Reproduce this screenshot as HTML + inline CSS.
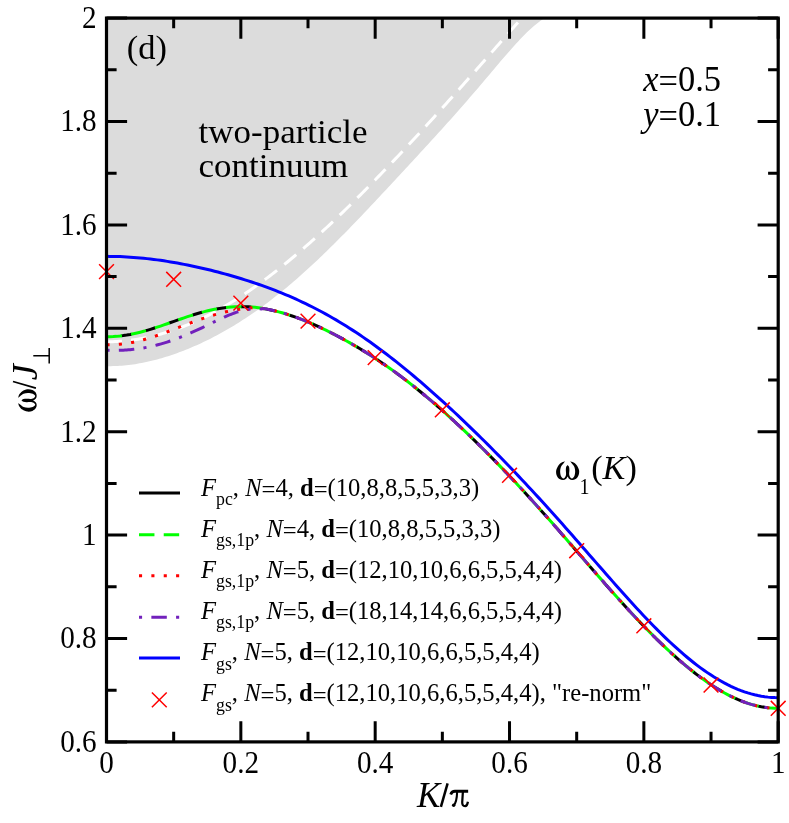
<!DOCTYPE html>
<html><head><meta charset="utf-8"><title>chart</title>
<style>
html,body{margin:0;padding:0;background:#fff;}
svg{display:block;}
text{font-family:"Liberation Serif",serif;fill:#000;}
</style></head><body>
<svg width="789" height="823" viewBox="0 0 789 823" style="will-change:transform;opacity:0.9999">
<rect width="789" height="823" fill="#fff"/>
<path d="M106.5,18.1 L106.50,366.23 L108.70,366.20 L110.90,366.15 L113.10,366.09 L115.31,366.01 L117.51,365.91 L119.71,365.79 L121.91,365.65 L124.11,365.48 L126.31,365.28 L128.52,365.05 L130.72,364.78 L132.92,364.48 L135.12,364.13 L137.32,363.76 L139.52,363.37 L141.72,362.95 L143.93,362.51 L146.13,362.05 L148.33,361.56 L150.53,361.05 L152.73,360.52 L154.93,359.96 L157.13,359.39 L159.34,358.78 L161.54,358.16 L163.74,357.51 L165.94,356.84 L168.14,356.14 L170.34,355.42 L172.55,354.68 L174.75,353.92 L176.95,353.14 L179.15,352.33 L181.35,351.51 L183.55,350.66 L185.75,349.79 L187.96,348.90 L190.16,347.99 L192.36,347.06 L194.56,346.11 L196.76,345.14 L198.96,344.15 L201.16,343.14 L203.37,342.11 L205.57,341.05 L207.77,339.98 L209.97,338.88 L212.17,337.76 L214.37,336.62 L216.58,335.46 L218.78,334.27 L220.98,333.07 L223.18,331.84 L225.38,330.59 L227.58,329.33 L229.78,328.04 L231.99,326.73 L234.19,325.40 L236.39,324.05 L238.59,322.68 L240.79,321.28 L242.99,319.87 L245.19,318.44 L247.40,316.98 L249.60,315.50 L251.80,314.01 L254.00,312.49 L256.20,310.94 L258.40,309.38 L260.61,307.80 L262.81,306.19 L265.01,304.56 L267.21,302.92 L269.41,301.25 L271.61,299.56 L273.81,297.85 L276.02,296.12 L278.22,294.37 L280.42,292.60 L282.62,290.81 L284.82,289.00 L287.02,287.17 L289.23,285.33 L291.43,283.46 L293.63,281.58 L295.83,279.67 L298.03,277.75 L300.23,275.80 L302.43,273.84 L304.64,271.86 L306.84,269.87 L309.04,267.85 L311.24,265.82 L313.44,263.77 L315.64,261.71 L317.84,259.63 L320.05,257.54 L322.25,255.43 L324.45,253.31 L326.65,251.17 L328.85,249.03 L331.05,246.87 L333.26,244.69 L335.46,242.51 L337.66,240.31 L339.86,238.09 L342.06,235.87 L344.26,233.63 L346.46,231.39 L348.67,229.13 L350.87,226.86 L353.07,224.58 L355.27,222.30 L357.47,220.00 L359.67,217.70 L361.87,215.39 L364.08,213.08 L366.28,210.75 L368.48,208.43 L370.68,206.09 L372.88,203.75 L375.08,201.41 L377.29,199.06 L379.49,196.71 L381.69,194.36 L383.89,192.00 L386.09,189.65 L388.29,187.28 L390.49,184.92 L392.70,182.55 L394.90,180.19 L397.10,177.82 L399.30,175.44 L401.50,173.07 L403.70,170.70 L405.91,168.32 L408.11,165.94 L410.31,163.56 L412.51,161.18 L414.71,158.79 L416.91,156.41 L419.11,154.02 L421.32,151.62 L423.52,149.23 L425.72,146.83 L427.92,144.43 L430.12,142.02 L432.32,139.61 L434.52,137.20 L436.73,134.78 L438.93,132.35 L441.13,129.92 L443.33,127.48 L445.53,125.04 L447.73,122.59 L449.94,120.13 L452.14,117.66 L454.34,115.19 L456.54,112.70 L458.74,110.21 L460.94,107.71 L463.14,105.20 L465.35,102.69 L467.55,100.16 L469.75,97.62 L471.95,95.08 L474.15,92.52 L476.35,89.95 L478.55,87.38 L480.76,84.79 L482.96,82.20 L485.16,79.60 L487.36,77.00 L489.56,74.39 L491.76,71.78 L493.97,69.17 L496.17,66.57 L498.37,63.97 L500.57,61.37 L502.77,58.79 L504.97,56.23 L507.17,53.68 L509.38,51.16 L511.58,48.66 L513.78,46.19 L515.98,43.76 L518.18,41.38 L520.38,39.03 L522.58,36.74 L524.79,34.51 L526.99,32.34 L529.19,30.24 L531.39,28.22 L533.59,26.28 L535.79,24.43 L538.00,22.67 L540.20,21.03 L542.40,19.49 L544.60,18.08 L544.60,18.1 Z" fill="#dcdcdc"/>
<g fill="none">
<path d="M106.50,341.74 L108.60,341.73 L110.69,341.69 L112.79,341.63 L114.89,341.55 L116.98,341.45 L119.08,341.32 L121.18,341.17 L123.27,341.00 L125.37,340.80 L127.47,340.59 L129.56,340.35 L131.66,340.08 L133.76,339.80 L135.85,339.49 L137.95,339.16 L140.05,338.80 L142.14,338.42 L144.24,338.03 L146.34,337.60 L148.43,337.16 L150.53,336.69 L152.63,336.20 L154.72,335.69 L156.82,335.16 L158.92,334.60 L161.02,334.03 L163.11,333.43 L165.21,332.81 L167.31,332.16 L169.40,331.50 L171.50,330.81 L173.60,330.10 L175.69,329.37 L177.79,328.62 L179.89,327.85 L181.98,327.05 L184.08,326.23 L186.18,325.40 L188.27,324.54 L190.37,323.66 L192.47,322.76 L194.56,321.84 L196.66,320.89 L198.76,319.93 L200.85,318.95 L202.95,317.94 L205.05,316.92 L207.14,315.88 L209.24,314.81 L211.34,313.73 L213.43,312.62 L215.53,311.50 L217.63,310.35 L219.72,309.19 L221.82,308.01 L223.92,306.80 L226.01,305.58 L228.11,304.34 L230.21,303.08 L232.30,301.80 L234.40,300.51 L236.50,299.19 L238.59,297.86 L240.69,296.51 L242.79,295.14 L244.88,293.75 L246.98,292.34 L249.08,290.92 L251.17,289.48 L253.27,288.02 L255.37,286.55 L257.46,285.05 L259.56,283.55 L261.66,282.02 L263.76,280.48 L265.85,278.92 L267.95,277.35 L270.05,275.76 L272.14,274.15 L274.24,272.53 L276.34,270.89 L278.43,269.24 L280.53,267.57 L282.63,265.89 L284.72,264.19 L286.82,262.48 L288.92,260.76 L291.01,259.02 L293.11,257.26 L295.21,255.50 L297.30,253.72 L299.40,251.92 L301.50,250.12 L303.59,248.30 L305.69,246.47 L307.79,244.62 L309.88,242.77 L311.98,240.90 L314.08,239.02 L316.17,237.13 L318.27,235.22 L320.37,233.31 L322.46,231.39 L324.56,229.45 L326.66,227.50 L328.75,225.55 L330.85,223.58 L332.95,221.60 L335.04,219.62 L337.14,217.62 L339.24,215.61 L341.33,213.60 L343.43,211.57 L345.53,209.54 L347.62,207.50 L349.72,205.45 L351.82,203.39 L353.91,201.32 L356.01,199.24 L358.11,197.16 L360.20,195.07 L362.30,192.97 L364.40,190.86 L366.49,188.74 L368.59,186.62 L370.69,184.49 L372.79,182.35 L374.88,180.21 L376.98,178.05 L379.08,175.90 L381.17,173.73 L383.27,171.56 L385.37,169.38 L387.46,167.19 L389.56,165.00 L391.66,162.80 L393.75,160.60 L395.85,158.39 L397.95,156.17 L400.04,153.95 L402.14,151.72 L404.24,149.49 L406.33,147.25 L408.43,145.00 L410.53,142.75 L412.62,140.50 L414.72,138.23 L416.82,135.97 L418.91,133.69 L421.01,131.41 L423.11,129.13 L425.20,126.84 L427.30,124.55 L429.40,122.25 L431.49,119.95 L433.59,117.64 L435.69,115.33 L437.78,113.01 L439.88,110.69 L441.98,108.37 L444.07,106.04 L446.17,103.71 L448.27,101.37 L450.36,99.03 L452.46,96.68 L454.56,94.34 L456.65,91.99 L458.75,89.63 L460.85,87.27 L462.94,84.91 L465.04,82.55 L467.14,80.18 L469.23,77.81 L471.33,75.44 L473.43,73.07 L475.53,70.69 L477.62,68.32 L479.72,65.94 L481.82,63.55 L483.91,61.17 L486.01,58.79 L488.11,56.40 L490.20,54.02 L492.30,51.63 L494.40,49.24 L496.49,46.85 L498.59,44.46 L500.69,42.07 L502.78,39.68 L504.88,37.29 L506.98,34.90 L509.07,32.51 L511.17,30.13 L513.27,27.74 L515.36,25.35 L517.46,22.97 L519.56,20.59 L521.65,18.20 L523.75,15.82" stroke="#fff" stroke-width="3" stroke-dasharray="15.45 9.27"/>
<path d="M106.50,336.80 L109.88,336.75 L113.25,336.61 L116.63,336.37 L120.00,336.03 L123.38,335.60 L126.75,335.09 L130.13,334.49 L133.50,333.81 L136.88,333.05 L140.25,332.22 L143.63,331.32 L147.00,330.36 L150.38,329.35 L153.76,328.29 L157.13,327.19 L160.51,326.06 L163.88,324.90 L167.26,323.72 L170.63,322.54 L174.01,321.34 L177.38,320.16 L180.76,318.98 L184.13,317.82 L187.51,316.69 L190.88,315.59 L194.26,314.54 L197.64,313.52 L201.01,312.56 L204.39,311.66 L207.76,310.81 L211.14,310.04 L214.51,309.33 L217.89,308.71 L221.26,308.15 L224.64,307.69 L228.01,307.30 L231.39,307.00 L234.76,306.79 L238.14,306.66 L241.52,306.63 L244.89,306.68 L248.27,306.82 L251.64,307.05 L255.02,307.36 L258.39,307.76 L261.77,308.24 L265.14,308.81 L268.52,309.45 L271.89,310.17 L275.27,310.97 L278.64,311.84 L282.02,312.77 L285.39,313.78 L288.77,314.85 L292.15,315.98 L295.52,317.17 L298.90,318.41 L302.27,319.72 L305.65,321.07 L309.02,322.47 L312.40,323.92 L315.77,325.42 L319.15,326.96 L322.52,328.54 L325.90,330.16 L329.27,331.83 L332.65,333.54 L336.03,335.28 L339.40,337.06 L342.78,338.89 L346.15,340.75 L349.53,342.65 L352.90,344.58 L356.28,346.56 L359.65,348.57 L363.03,350.62 L366.40,352.71 L369.78,354.85 L373.15,357.02 L376.53,359.23 L379.91,361.48 L383.28,363.77 L386.66,366.11 L390.03,368.48 L393.41,370.90 L396.78,373.36 L400.16,375.86 L403.53,378.40 L406.91,380.99 L410.28,383.61 L413.66,386.28 L417.03,388.98 L420.41,391.73 L423.79,394.51 L427.16,397.34 L430.54,400.20 L433.91,403.09 L437.29,406.02 L440.66,408.99 L444.04,411.99 L447.41,415.03 L450.79,418.10 L454.16,421.20 L457.54,424.33 L460.91,427.49 L464.29,430.68 L467.67,433.91 L471.04,437.16 L474.42,440.43 L477.79,443.74 L481.17,447.07 L484.54,450.43 L487.92,453.82 L491.29,457.23 L494.67,460.67 L498.04,464.13 L501.42,467.62 L504.79,471.14 L508.17,474.68 L511.55,478.25 L514.92,481.84 L518.30,485.45 L521.67,489.09 L525.05,492.76 L528.42,496.45 L531.80,500.16 L535.17,503.89 L538.55,507.64 L541.92,511.42 L545.30,515.21 L548.67,519.02 L552.05,522.85 L555.43,526.69 L558.80,530.55 L562.18,534.42 L565.55,538.30 L568.93,542.19 L572.30,546.09 L575.68,549.99 L579.05,553.89 L582.43,557.80 L585.80,561.70 L589.18,565.60 L592.55,569.49 L595.93,573.37 L599.31,577.24 L602.68,581.10 L606.06,584.94 L609.43,588.77 L612.81,592.57 L616.18,596.35 L619.56,600.11 L622.93,603.83 L626.31,607.53 L629.68,611.20 L633.06,614.83 L636.43,618.43 L639.81,621.99 L643.18,625.51 L646.56,628.98 L649.94,632.42 L653.31,635.81 L656.69,639.15 L660.06,642.44 L663.44,645.68 L666.81,648.87 L670.19,652.00 L673.56,655.08 L676.94,658.09 L680.31,661.05 L683.69,663.94 L687.06,666.76 L690.44,669.52 L693.82,672.21 L697.19,674.82 L700.57,677.35 L703.94,679.81 L707.32,682.19 L710.69,684.48 L714.07,686.68 L717.44,688.79 L720.82,690.81 L724.19,692.74 L727.57,694.56 L730.94,696.29 L734.32,697.90 L737.70,699.42 L741.07,700.82 L744.45,702.11 L747.82,703.28 L751.20,704.34 L754.57,705.27 L757.95,706.09 L761.32,706.78 L764.70,707.35 L768.07,707.80 L771.45,708.12 L774.82,708.31 L778.20,708.37" stroke="#000" stroke-width="3" stroke-dasharray="10.27 14.45" stroke-dashoffset="9.77"/>
<path d="M106.50,336.80 L109.88,336.75 L113.25,336.61 L116.63,336.37 L120.00,336.03 L123.38,335.60 L126.75,335.09 L130.13,334.49 L133.50,333.81 L136.88,333.05 L140.25,332.22 L143.63,331.32 L147.00,330.36 L150.38,329.35 L153.76,328.29 L157.13,327.19 L160.51,326.06 L163.88,324.90 L167.26,323.72 L170.63,322.54 L174.01,321.34 L177.38,320.16 L180.76,318.98 L184.13,317.82 L187.51,316.69 L190.88,315.59 L194.26,314.54 L197.64,313.52 L201.01,312.56 L204.39,311.66 L207.76,310.81 L211.14,310.04 L214.51,309.33 L217.89,308.71 L221.26,308.15 L224.64,307.69 L228.01,307.30 L231.39,307.00 L234.76,306.79 L238.14,306.66 L241.52,306.63 L244.89,306.68 L248.27,306.82 L251.64,307.05 L255.02,307.36 L258.39,307.76 L261.77,308.24 L265.14,308.81 L268.52,309.45 L271.89,310.17 L275.27,310.97 L278.64,311.84 L282.02,312.77 L285.39,313.78 L288.77,314.85 L292.15,315.98 L295.52,317.17 L298.90,318.41 L302.27,319.72 L305.65,321.07 L309.02,322.47 L312.40,323.92 L315.77,325.42 L319.15,326.96 L322.52,328.54 L325.90,330.16 L329.27,331.83 L332.65,333.54 L336.03,335.28 L339.40,337.06 L342.78,338.89 L346.15,340.75 L349.53,342.65 L352.90,344.58 L356.28,346.56 L359.65,348.57 L363.03,350.62 L366.40,352.71 L369.78,354.85 L373.15,357.02 L376.53,359.23 L379.91,361.48 L383.28,363.77 L386.66,366.11 L390.03,368.48 L393.41,370.90 L396.78,373.36 L400.16,375.86 L403.53,378.40 L406.91,380.99 L410.28,383.61 L413.66,386.28 L417.03,388.98 L420.41,391.73 L423.79,394.51 L427.16,397.34 L430.54,400.20 L433.91,403.09 L437.29,406.02 L440.66,408.99 L444.04,411.99 L447.41,415.03 L450.79,418.10 L454.16,421.20 L457.54,424.33 L460.91,427.49 L464.29,430.68 L467.67,433.91 L471.04,437.16 L474.42,440.43 L477.79,443.74 L481.17,447.07 L484.54,450.43 L487.92,453.82 L491.29,457.23 L494.67,460.67 L498.04,464.13 L501.42,467.62 L504.79,471.14 L508.17,474.68 L511.55,478.25 L514.92,481.84 L518.30,485.45 L521.67,489.09 L525.05,492.76 L528.42,496.45 L531.80,500.16 L535.17,503.89 L538.55,507.64 L541.92,511.42 L545.30,515.21 L548.67,519.02 L552.05,522.85 L555.43,526.69 L558.80,530.55 L562.18,534.42 L565.55,538.30 L568.93,542.19 L572.30,546.09 L575.68,549.99 L579.05,553.89 L582.43,557.80 L585.80,561.70 L589.18,565.60 L592.55,569.49 L595.93,573.37 L599.31,577.24 L602.68,581.10 L606.06,584.94 L609.43,588.77 L612.81,592.57 L616.18,596.35 L619.56,600.11 L622.93,603.83 L626.31,607.53 L629.68,611.20 L633.06,614.83 L636.43,618.43 L639.81,621.99 L643.18,625.51 L646.56,628.98 L649.94,632.42 L653.31,635.81 L656.69,639.15 L660.06,642.44 L663.44,645.68 L666.81,648.87 L670.19,652.00 L673.56,655.08 L676.94,658.09 L680.31,661.05 L683.69,663.94 L687.06,666.76 L690.44,669.52 L693.82,672.21 L697.19,674.82 L700.57,677.35 L703.94,679.81 L707.32,682.19 L710.69,684.48 L714.07,686.68 L717.44,688.79 L720.82,690.81 L724.19,692.74 L727.57,694.56 L730.94,696.29 L734.32,697.90 L737.70,699.42 L741.07,700.82 L744.45,702.11 L747.82,703.28 L751.20,704.34 L754.57,705.27 L757.95,706.09 L761.32,706.78 L764.70,707.35 L768.07,707.80 L771.45,708.12 L774.82,708.31 L778.20,708.37" stroke="#00ff00" stroke-width="3" stroke-dasharray="15.45 9.27"/>
<path d="M106.50,344.71 L108.18,344.74 L109.87,344.74 L111.55,344.71 L113.23,344.66 L114.92,344.59 L116.60,344.49 L118.28,344.36 L119.97,344.21 L121.65,344.03 L123.33,343.84 L125.02,343.61 L126.70,343.37 L128.38,343.10 L130.07,342.81 L131.75,342.49 L133.44,342.16 L135.12,341.80 L136.80,341.42 L138.49,341.02 L140.17,340.61 L141.85,340.17 L143.54,339.72 L145.22,339.25 L146.90,338.76 L148.59,338.25 L150.27,337.73 L151.95,337.20 L153.64,336.65 L155.32,336.09 L157.00,335.52 L158.69,334.93 L160.37,334.34 L162.05,333.74 L163.74,333.12 L165.42,332.50 L167.10,331.88 L168.79,331.24 L170.47,330.60 L172.15,329.96 L173.84,329.31 L175.52,328.67 L177.21,328.02 L178.89,327.36 L180.57,326.71 L182.26,326.06 L183.94,325.42 L185.62,324.77 L187.31,324.13 L188.99,323.49 L190.67,322.85 L192.36,322.23 L194.04,321.61 L195.72,320.99 L197.41,320.38 L199.09,319.79 L200.77,319.20 L202.46,318.62 L204.14,318.05 L205.82,317.49 L207.51,316.94 L209.19,316.41 L210.87,315.89 L212.56,315.38 L214.24,314.88 L215.92,314.40 L217.61,313.93 L219.29,313.48 L220.98,313.04 L222.66,312.62 L224.34,312.21 L226.03,311.81 L227.71,311.44 L229.39,311.08 L231.08,310.73 L232.76,310.40 L234.44,310.09 L236.13,309.79 L237.81,309.51 L239.49,309.25 L241.18,309.00 L242.86,308.77 L244.54,308.56 L246.23,308.36 L247.91,308.18 L249.59,308.01 L251.28,307.86 L252.96,307.72 L254.64,307.60 L256.33,307.51 L258.01,307.71 L259.69,307.94 L261.38,308.18 L263.06,308.45 L264.75,308.74 L266.43,309.04 L268.11,309.37 L269.80,309.72 L271.48,310.08 L273.16,310.46 L274.85,310.86 L276.53,311.28 L278.21,311.72 L279.90,312.18 L281.58,312.65 L283.26,313.14 L284.95,313.64 L286.63,314.16 L288.31,314.70 L290.00,315.25 L291.68,315.82 L293.36,316.40 L295.05,317.00 L296.73,317.61 L298.41,318.23 L300.10,318.87 L301.78,319.52 L303.46,320.19 L305.15,320.86 L306.83,321.55 L308.52,322.26 L310.20,322.97 L311.88,323.69 L313.57,324.43 L315.25,325.18 L316.93,325.94 L318.62,326.71 L320.30,327.49 L321.98,328.28 L323.67,329.08 L325.35,329.90 L327.03,330.72 L328.72,331.55 L330.40,332.39 L332.08,333.25 L333.77,334.11 L335.45,334.98 L337.13,335.86 L338.82,336.75 L340.50,337.65 L342.18,338.56 L343.87,339.48 L345.55,340.41 L347.23,341.35 L348.92,342.30 L350.60,343.26 L352.28,344.22 L353.97,345.20 L355.65,346.19 L357.34,347.18 L359.02,348.19 L360.70,349.20 L362.39,350.23 L364.07,351.26 L365.75,352.31 L367.44,353.36 L369.12,354.43 L370.80,355.50 L372.49,356.58 L374.17,357.68 L375.85,358.78 L377.54,359.90 L379.22,361.02 L380.90,362.15 L382.59,363.30 L384.27,364.45 L385.95,365.62 L387.64,366.79 L389.32,367.98 L391.00,369.18 L392.69,370.38 L394.37,371.60 L396.05,372.83 L397.74,374.07 L399.42,375.31 L401.11,376.57 L402.79,377.84 L404.47,379.12 L406.16,380.41 L407.84,381.71 L409.52,383.02 L411.21,384.34 L412.89,385.67 L414.57,387.01 L416.26,388.36 L417.94,389.72 L419.62,391.09 L421.31,392.46 L422.99,393.85 L424.67,395.25 L426.36,396.66 L428.04,398.08 L429.72,399.50 L431.41,400.94 L433.09,402.38 L434.77,403.84 L436.46,405.30 L438.14,406.77 L439.82,408.25 L441.51,409.74 L443.19,411.24 L444.88,412.74 L446.56,414.26 L448.24,415.78 L449.93,417.31 L451.61,418.85 L453.29,420.40 L454.98,421.95 L456.66,423.51 L458.34,425.08 L460.03,426.66 L461.71,428.24 L463.39,429.83 L465.08,431.43 L466.76,433.04 L468.44,434.65 L470.13,436.27 L471.81,437.90 L473.49,439.53 L475.18,441.18 L476.86,442.82 L478.54,444.48 L480.23,446.14 L481.91,447.81 L483.59,449.48 L485.28,451.17 L486.96,452.85 L488.65,454.55 L490.33,456.25 L492.01,457.96 L493.70,459.67 L495.38,461.39 L497.06,463.12 L498.75,464.86 L500.43,466.60 L502.11,468.34 L503.80,470.10 L505.48,471.85 L507.16,473.62 L508.85,475.39 L510.53,477.17 L512.21,478.95 L513.90,480.75 L515.58,482.54 L517.26,484.34 L518.95,486.15 L520.63,487.97 L522.31,489.79 L524.00,491.62 L525.68,493.45 L527.36,495.29 L529.05,497.13 L530.73,498.98 L532.42,500.84 L534.10,502.70 L535.78,504.56 L537.47,506.43 L539.15,508.31 L540.83,510.19 L542.52,512.08 L544.20,513.97 L545.88,515.87 L547.57,517.77 L549.25,519.67 L550.93,521.58 L552.62,523.49 L554.30,525.41 L555.98,527.33 L557.67,529.25 L559.35,531.18 L561.03,533.11 L562.72,535.04 L564.40,536.98 L566.08,538.92 L567.77,540.86 L569.45,542.80 L571.13,544.74 L572.82,546.68 L574.50,548.63 L576.18,550.58 L577.87,552.52 L579.55,554.47 L581.24,556.42 L582.92,558.36 L584.60,560.31 L586.29,562.26 L587.97,564.20 L589.65,566.14 L591.34,568.09 L593.02,570.03 L594.70,571.96 L596.39,573.90 L598.07,575.83 L599.75,577.76 L601.44,579.68 L603.12,581.60 L604.80,583.52 L606.49,585.43 L608.17,587.34 L609.85,589.25 L611.54,591.14 L613.22,593.04 L614.90,594.92 L616.59,596.80 L618.27,598.68 L619.95,600.55 L621.64,602.41 L623.32,604.26 L625.01,606.11 L626.69,607.95 L628.37,609.78 L630.06,611.60 L631.74,613.41 L633.42,615.22 L635.11,617.02 L636.79,618.80 L638.47,620.58 L640.16,622.35 L641.84,624.11 L643.52,625.86 L645.21,627.59 L646.89,629.32 L648.57,631.04 L650.26,632.74 L651.94,634.44 L653.62,636.12 L655.31,637.79 L656.99,639.45 L658.67,641.09 L660.36,642.73 L662.04,644.35 L663.72,645.96 L665.41,647.55 L667.09,649.13 L668.78,650.70 L670.46,652.25 L672.14,653.79 L673.83,655.31 L675.51,656.82 L677.19,658.32 L678.88,659.80 L680.56,661.26 L682.24,662.71 L683.93,664.14 L685.61,665.56 L687.29,666.95 L688.98,668.33 L690.66,669.70 L692.34,671.04 L694.03,672.37 L695.71,673.68 L697.39,674.97 L699.08,676.25 L700.76,677.50 L702.44,678.73 L704.13,679.94 L705.81,681.14 L707.49,682.31 L709.18,683.46 L710.86,684.59 L712.55,685.70 L714.23,686.78 L715.91,687.85 L717.60,688.89 L719.28,689.90 L720.96,690.90 L722.65,691.87 L724.33,692.81 L726.01,693.73 L727.70,694.63 L729.38,695.50 L731.06,696.34 L732.75,697.16 L734.43,697.96 L736.11,698.72 L737.80,699.46 L739.48,700.17 L741.16,700.85 L742.85,701.51 L744.53,702.14 L746.21,702.74 L747.90,703.30 L749.58,703.85 L751.26,704.36 L752.95,704.84 L754.63,705.29 L756.32,705.71 L758.00,706.10 L759.68,706.46 L761.37,706.79 L763.05,707.09 L764.73,707.36 L766.42,707.59 L768.10,707.80 L769.78,707.97 L771.47,708.12 L773.15,708.23 L774.83,708.31 L776.52,708.35 L778.20,708.37" stroke="#ff0000" stroke-width="3" stroke-dasharray="3.09 9.27"/>
<path d="M106.50,350.25 L108.18,350.30 L109.87,350.33 L111.55,350.36 L113.23,350.37 L114.92,350.37 L116.60,350.35 L118.28,350.32 L119.97,350.28 L121.65,350.22 L123.33,350.15 L125.02,350.06 L126.70,349.95 L128.38,349.83 L130.07,349.69 L131.75,349.53 L133.44,349.35 L135.12,349.16 L136.80,348.95 L138.49,348.72 L140.17,348.48 L141.85,348.21 L143.54,347.93 L145.22,347.63 L146.90,347.31 L148.59,346.97 L150.27,346.62 L151.95,346.24 L153.64,345.85 L155.32,345.44 L157.00,345.01 L158.69,344.57 L160.37,344.11 L162.05,343.62 L163.74,343.13 L165.42,342.61 L167.10,342.08 L168.79,341.53 L170.47,340.96 L172.15,340.38 L173.84,339.78 L175.52,339.16 L177.21,338.53 L178.89,337.89 L180.57,337.22 L182.26,336.54 L183.94,335.85 L185.62,335.14 L187.31,334.42 L188.99,333.69 L190.67,332.95 L192.36,332.20 L194.04,331.44 L195.72,330.68 L197.41,329.90 L199.09,329.12 L200.77,328.33 L202.46,327.54 L204.14,326.73 L205.82,325.92 L207.51,325.11 L209.19,324.29 L210.87,323.47 L212.56,322.65 L214.24,321.83 L215.92,321.02 L217.61,320.21 L219.29,319.42 L220.98,318.63 L222.66,317.86 L224.34,317.10 L226.03,316.36 L227.71,315.64 L229.39,314.95 L231.08,314.28 L232.76,313.64 L234.44,313.02 L236.13,312.44 L237.81,311.89 L239.49,311.38 L241.18,310.91 L242.86,310.47 L244.54,310.08 L246.23,309.73 L247.91,309.43 L249.59,309.17 L251.28,308.97 L252.96,308.81 L254.64,308.71 L256.33,308.67 L258.01,308.68 L259.69,308.75 L261.38,308.88 L263.06,308.45 L264.75,308.74 L266.43,309.04 L268.11,309.37 L269.80,309.72 L271.48,310.08 L273.16,310.46 L274.85,310.86 L276.53,311.28 L278.21,311.72 L279.90,312.18 L281.58,312.65 L283.26,313.14 L284.95,313.64 L286.63,314.16 L288.31,314.70 L290.00,315.25 L291.68,315.82 L293.36,316.40 L295.05,317.00 L296.73,317.61 L298.41,318.23 L300.10,318.87 L301.78,319.52 L303.46,320.19 L305.15,320.86 L306.83,321.55 L308.52,322.26 L310.20,322.97 L311.88,323.69 L313.57,324.43 L315.25,325.18 L316.93,325.94 L318.62,326.71 L320.30,327.49 L321.98,328.28 L323.67,329.08 L325.35,329.90 L327.03,330.72 L328.72,331.55 L330.40,332.39 L332.08,333.25 L333.77,334.11 L335.45,334.98 L337.13,335.86 L338.82,336.75 L340.50,337.65 L342.18,338.56 L343.87,339.48 L345.55,340.41 L347.23,341.35 L348.92,342.30 L350.60,343.26 L352.28,344.22 L353.97,345.20 L355.65,346.19 L357.34,347.18 L359.02,348.19 L360.70,349.20 L362.39,350.23 L364.07,351.26 L365.75,352.31 L367.44,353.36 L369.12,354.43 L370.80,355.50 L372.49,356.58 L374.17,357.68 L375.85,358.78 L377.54,359.90 L379.22,361.02 L380.90,362.15 L382.59,363.30 L384.27,364.45 L385.95,365.62 L387.64,366.79 L389.32,367.98 L391.00,369.18 L392.69,370.38 L394.37,371.60 L396.05,372.83 L397.74,374.07 L399.42,375.31 L401.11,376.57 L402.79,377.84 L404.47,379.12 L406.16,380.41 L407.84,381.71 L409.52,383.02 L411.21,384.34 L412.89,385.67 L414.57,387.01 L416.26,388.36 L417.94,389.72 L419.62,391.09 L421.31,392.46 L422.99,393.85 L424.67,395.25 L426.36,396.66 L428.04,398.08 L429.72,399.50 L431.41,400.94 L433.09,402.38 L434.77,403.84 L436.46,405.30 L438.14,406.77 L439.82,408.25 L441.51,409.74 L443.19,411.24 L444.88,412.74 L446.56,414.26 L448.24,415.78 L449.93,417.31 L451.61,418.85 L453.29,420.40 L454.98,421.95 L456.66,423.51 L458.34,425.08 L460.03,426.66 L461.71,428.24 L463.39,429.83 L465.08,431.43 L466.76,433.04 L468.44,434.65 L470.13,436.27 L471.81,437.90 L473.49,439.53 L475.18,441.18 L476.86,442.82 L478.54,444.48 L480.23,446.14 L481.91,447.81 L483.59,449.48 L485.28,451.17 L486.96,452.85 L488.65,454.55 L490.33,456.25 L492.01,457.96 L493.70,459.67 L495.38,461.39 L497.06,463.12 L498.75,464.86 L500.43,466.60 L502.11,468.34 L503.80,470.10 L505.48,471.85 L507.16,473.62 L508.85,475.39 L510.53,477.17 L512.21,478.95 L513.90,480.75 L515.58,482.54 L517.26,484.34 L518.95,486.15 L520.63,487.97 L522.31,489.79 L524.00,491.62 L525.68,493.45 L527.36,495.29 L529.05,497.13 L530.73,498.98 L532.42,500.84 L534.10,502.70 L535.78,504.56 L537.47,506.43 L539.15,508.31 L540.83,510.19 L542.52,512.08 L544.20,513.97 L545.88,515.87 L547.57,517.77 L549.25,519.67 L550.93,521.58 L552.62,523.49 L554.30,525.41 L555.98,527.33 L557.67,529.25 L559.35,531.18 L561.03,533.11 L562.72,535.04 L564.40,536.98 L566.08,538.92 L567.77,540.86 L569.45,542.80 L571.13,544.74 L572.82,546.68 L574.50,548.63 L576.18,550.58 L577.87,552.52 L579.55,554.47 L581.24,556.42 L582.92,558.36 L584.60,560.31 L586.29,562.26 L587.97,564.20 L589.65,566.14 L591.34,568.09 L593.02,570.03 L594.70,571.96 L596.39,573.90 L598.07,575.83 L599.75,577.76 L601.44,579.68 L603.12,581.60 L604.80,583.52 L606.49,585.43 L608.17,587.34 L609.85,589.25 L611.54,591.14 L613.22,593.04 L614.90,594.92 L616.59,596.80 L618.27,598.68 L619.95,600.55 L621.64,602.41 L623.32,604.26 L625.01,606.11 L626.69,607.95 L628.37,609.78 L630.06,611.60 L631.74,613.41 L633.42,615.22 L635.11,617.02 L636.79,618.80 L638.47,620.58 L640.16,622.35 L641.84,624.11 L643.52,625.86 L645.21,627.59 L646.89,629.32 L648.57,631.04 L650.26,632.74 L651.94,634.44 L653.62,636.12 L655.31,637.79 L656.99,639.45 L658.67,641.09 L660.36,642.73 L662.04,644.35 L663.72,645.96 L665.41,647.55 L667.09,649.13 L668.78,650.70 L670.46,652.25 L672.14,653.79 L673.83,655.31 L675.51,656.82 L677.19,658.32 L678.88,659.80 L680.56,661.26 L682.24,662.71 L683.93,664.14 L685.61,665.56 L687.29,666.95 L688.98,668.33 L690.66,669.70 L692.34,671.04 L694.03,672.37 L695.71,673.68 L697.39,674.97 L699.08,676.25 L700.76,677.50 L702.44,678.73 L704.13,679.94 L705.81,681.14 L707.49,682.31 L709.18,683.46 L710.86,684.59 L712.55,685.70 L714.23,686.78 L715.91,687.85 L717.60,688.89 L719.28,689.90 L720.96,690.90 L722.65,691.87 L724.33,692.81 L726.01,693.73 L727.70,694.63 L729.38,695.50 L731.06,696.34 L732.75,697.16 L734.43,697.96 L736.11,698.72 L737.80,699.46 L739.48,700.17 L741.16,700.85 L742.85,701.51 L744.53,702.14 L746.21,702.74 L747.90,703.30 L749.58,703.85 L751.26,704.36 L752.95,704.84 L754.63,705.29 L756.32,705.71 L758.00,706.10 L759.68,706.46 L761.37,706.79 L763.05,707.09 L764.73,707.36 L766.42,707.59 L768.10,707.80 L769.78,707.97 L771.47,708.12 L773.15,708.23 L774.83,708.31 L776.52,708.35 L778.20,708.37" stroke="#7221bc" stroke-width="3" stroke-dasharray="3.09 9.27 15.45 9.27"/>
<path d="M106.50,256.37 L109.88,256.38 L113.25,256.43 L116.63,256.51 L120.00,256.62 L123.38,256.77 L126.75,256.94 L130.13,257.15 L133.50,257.38 L136.88,257.65 L140.25,257.95 L143.63,258.28 L147.00,258.63 L150.38,259.02 L153.76,259.43 L157.13,259.88 L160.51,260.34 L163.88,260.84 L167.26,261.36 L170.63,261.91 L174.01,262.48 L177.38,263.08 L180.76,263.70 L184.13,264.35 L187.51,265.02 L190.88,265.71 L194.26,266.43 L197.64,267.16 L201.01,267.92 L204.39,268.71 L207.76,269.51 L211.14,270.33 L214.51,271.18 L217.89,272.05 L221.26,272.94 L224.64,273.85 L228.01,274.79 L231.39,275.75 L234.76,276.73 L238.14,277.73 L241.52,278.76 L244.89,279.81 L248.27,280.89 L251.64,281.99 L255.02,283.12 L258.39,284.27 L261.77,285.45 L265.14,286.66 L268.52,287.90 L271.89,289.17 L275.27,290.47 L278.64,291.80 L282.02,293.16 L285.39,294.56 L288.77,295.99 L292.15,297.45 L295.52,298.95 L298.90,300.49 L302.27,302.06 L305.65,303.67 L309.02,305.31 L312.40,307.00 L315.77,308.72 L319.15,310.49 L322.52,312.29 L325.90,314.14 L329.27,316.02 L332.65,317.95 L336.03,319.92 L339.40,321.92 L342.78,323.97 L346.15,326.07 L349.53,328.20 L352.90,330.37 L356.28,332.58 L359.65,334.84 L363.03,337.13 L366.40,339.47 L369.78,341.84 L373.15,344.25 L376.53,346.70 L379.91,349.19 L383.28,351.72 L386.66,354.28 L390.03,356.87 L393.41,359.51 L396.78,362.17 L400.16,364.87 L403.53,367.60 L406.91,370.37 L410.28,373.16 L413.66,375.99 L417.03,378.84 L420.41,381.73 L423.79,384.64 L427.16,387.58 L430.54,390.55 L433.91,393.54 L437.29,396.56 L440.66,399.60 L444.04,402.67 L447.41,405.76 L450.79,408.88 L454.16,412.02 L457.54,415.18 L460.91,418.37 L464.29,421.58 L467.67,424.81 L471.04,428.06 L474.42,431.33 L477.79,434.63 L481.17,437.95 L484.54,441.29 L487.92,444.65 L491.29,448.03 L494.67,451.44 L498.04,454.86 L501.42,458.31 L504.79,461.78 L508.17,465.27 L511.55,468.78 L514.92,472.31 L518.30,475.87 L521.67,479.44 L525.05,483.04 L528.42,486.65 L531.80,490.29 L535.17,493.95 L538.55,497.63 L541.92,501.32 L545.30,505.04 L548.67,508.77 L552.05,512.52 L555.43,516.29 L558.80,520.07 L562.18,523.87 L565.55,527.68 L568.93,531.51 L572.30,535.34 L575.68,539.19 L579.05,543.04 L582.43,546.90 L585.80,550.77 L589.18,554.64 L592.55,558.51 L595.93,562.37 L599.31,566.24 L602.68,570.10 L606.06,573.96 L609.43,577.80 L612.81,581.63 L616.18,585.45 L619.56,589.25 L622.93,593.03 L626.31,596.79 L629.68,600.52 L633.06,604.23 L636.43,607.90 L639.81,611.54 L643.18,615.15 L646.56,618.71 L649.94,622.23 L653.31,625.70 L656.69,629.13 L660.06,632.50 L663.44,635.82 L666.81,639.08 L670.19,642.27 L673.56,645.41 L676.94,648.48 L680.31,651.48 L683.69,654.40 L687.06,657.25 L690.44,660.02 L693.82,662.71 L697.19,665.32 L700.57,667.84 L703.94,670.28 L707.32,672.62 L710.69,674.87 L714.07,677.03 L717.44,679.08 L720.82,681.04 L724.19,682.90 L727.57,684.65 L730.94,686.30 L734.32,687.84 L737.70,689.28 L741.07,690.60 L744.45,691.81 L747.82,692.92 L751.20,693.90 L754.57,694.78 L757.95,695.54 L761.32,696.18 L764.70,696.71 L768.07,697.12 L771.45,697.42 L774.82,697.59 L778.20,697.65" stroke="#0000ff" stroke-width="3"/>
<path d="M99.10,264.29 L113.90,279.09 M99.10,279.09 L113.90,264.29 M166.27,271.89 L181.07,286.69 M166.27,286.69 L181.07,271.89 M233.44,295.72 L248.24,310.52 M233.44,310.52 L248.24,295.72 M300.61,313.71 L315.41,328.51 M300.61,328.51 L315.41,313.71 M367.78,350.21 L382.58,365.01 M367.78,365.01 L382.58,350.21 M434.95,402.38 L449.75,417.18 M434.95,417.18 L449.75,402.38 M502.12,467.88 L516.92,482.68 M502.12,482.68 L516.92,467.88 M569.29,543.31 L584.09,558.11 M569.29,558.11 L584.09,543.31 M636.46,618.38 L651.26,633.18 M636.46,633.18 L651.26,618.38 M703.63,677.63 L718.43,692.43 M703.63,692.43 L718.43,677.63 M770.80,700.89 L785.60,715.69 M770.80,715.69 L785.60,700.89" stroke="#ff0000" stroke-width="1.5"/>
<path d="M106.50,741.9 v-20.6 M106.50,18.1 v20.6 M173.67,741.9 v-10.1 M173.67,18.1 v10.1 M240.84,741.9 v-20.6 M240.84,18.1 v20.6 M308.01,741.9 v-10.1 M308.01,18.1 v10.1 M375.18,741.9 v-20.6 M375.18,18.1 v20.6 M442.35,741.9 v-10.1 M442.35,18.1 v10.1 M509.52,741.9 v-20.6 M509.52,18.1 v20.6 M576.69,741.9 v-10.1 M576.69,18.1 v10.1 M643.86,741.9 v-20.6 M643.86,18.1 v20.6 M711.03,741.9 v-10.1 M711.03,18.1 v10.1 M778.20,741.9 v-20.6 M778.20,18.1 v20.6 M106.5,741.90 h20.6 M778.2,741.90 h-20.6 M106.5,690.20 h10.1 M778.2,690.20 h-10.1 M106.5,638.50 h20.6 M778.2,638.50 h-20.6 M106.5,586.80 h10.1 M778.2,586.80 h-10.1 M106.5,535.10 h20.6 M778.2,535.10 h-20.6 M106.5,483.40 h10.1 M778.2,483.40 h-10.1 M106.5,431.70 h20.6 M778.2,431.70 h-20.6 M106.5,380.00 h10.1 M778.2,380.00 h-10.1 M106.5,328.30 h20.6 M778.2,328.30 h-20.6 M106.5,276.60 h10.1 M778.2,276.60 h-10.1 M106.5,224.90 h20.6 M778.2,224.90 h-20.6 M106.5,173.20 h10.1 M778.2,173.20 h-10.1 M106.5,121.50 h20.6 M778.2,121.50 h-20.6 M106.5,69.80 h10.1 M778.2,69.80 h-10.1 M106.5,18.10 h20.6 M778.2,18.10 h-20.6" stroke="#000" stroke-width="3"/>
<rect x="106.5" y="18.1" width="671.70" height="723.80" stroke="#000" stroke-width="3.2"/>
<path d="M139,493 H180" stroke="#000" stroke-width="3"/><path d="M139,534.8 H180" stroke="#00ff00" stroke-width="3" stroke-dasharray="15.45 9.27"/><path d="M139,575.7 H180" stroke="#ff0000" stroke-width="3" stroke-dasharray="3.09 9.27"/><path d="M139,617.3 H180" stroke="#7221bc" stroke-width="3" stroke-dasharray="3.09 9.27 15.45 9.27"/><path d="M139,658.1 H180" stroke="#0000ff" stroke-width="3"/><path d="M151.90,692.50 L166.70,707.30 M151.90,707.30 L166.70,692.50" stroke="#ff0000" stroke-width="1.5"/>
</g>
<g font-size="30"><text transform="translate(96.6,751.8) scale(0.935,1)" font-size="31.2" text-anchor="end">0.6</text><text transform="translate(96.6,648.4) scale(0.935,1)" font-size="31.2" text-anchor="end">0.8</text><text transform="translate(96.6,545.0) scale(0.935,1)" font-size="31.2" text-anchor="end">1</text><text transform="translate(96.6,441.6) scale(0.935,1)" font-size="31.2" text-anchor="end">1.2</text><text transform="translate(96.6,338.2) scale(0.935,1)" font-size="31.2" text-anchor="end">1.4</text><text transform="translate(96.6,234.8) scale(0.935,1)" font-size="31.2" text-anchor="end">1.6</text><text transform="translate(96.6,131.4) scale(0.935,1)" font-size="31.2" text-anchor="end">1.8</text><text transform="translate(96.6,28.0) scale(0.935,1)" font-size="31.2" text-anchor="end">2</text><text transform="translate(106.5,773.2) scale(0.935,1)" font-size="31.2" text-anchor="middle">0</text><text transform="translate(240.84,773.2) scale(0.935,1)" font-size="31.2" text-anchor="middle">0.2</text><text transform="translate(375.18,773.2) scale(0.935,1)" font-size="31.2" text-anchor="middle">0.4</text><text transform="translate(509.52,773.2) scale(0.935,1)" font-size="31.2" text-anchor="middle">0.6</text><text transform="translate(643.86,773.2) scale(0.935,1)" font-size="31.2" text-anchor="middle">0.8</text><text transform="translate(778.2,773.2) scale(0.935,1)" font-size="31.2" text-anchor="middle">1</text></g>
<text transform="translate(126.8,59.4) scale(1.045,1)" font-size="33" text-anchor="start">(d)</text>
<text transform="translate(198.6,143.0) scale(1.06,1)" font-size="33" text-anchor="start">two-particle</text>
<text transform="translate(198.6,177.0) scale(1.06,1)" font-size="33" text-anchor="start">continuum</text>
<text transform="translate(643.2,90.7) scale(0.99,1)" font-size="34.8" text-anchor="start"><tspan font-style="italic">x</tspan><tspan dy="2">=</tspan><tspan dy="-2">0.5</tspan></text>
<text transform="translate(643.2,125.6) scale(0.99,1)" font-size="34.8" text-anchor="start"><tspan font-style="italic">y</tspan><tspan dy="2">=</tspan><tspan dy="-2">0.1</tspan></text>
<path d="M9.25,-18.50 C9.25,-18.50 7.03,-18.29 5.89,-17.62 C4.75,-16.94 3.34,-15.82 2.41,-14.45 C1.48,-13.08 0.55,-11.07 0.32,-9.38 C0.08,-7.69 0.45,-5.70 1.01,-4.31 C1.57,-2.92 2.65,-1.73 3.68,-1.01 C4.70,-0.30 6.10,0.00 7.16,0.00 C8.22,0.00 9.24,-0.42 10.01,-1.01 C10.78,-1.61 11.79,-3.55 11.79,-3.55 C11.79,-3.55 12.80,-1.61 13.56,-1.01 C14.32,-0.42 15.30,0.00 16.35,0.00 C17.40,0.00 18.81,-0.30 19.84,-1.01 C20.86,-1.73 21.92,-2.92 22.50,-4.31 C23.08,-5.70 23.52,-7.69 23.32,-9.38 C23.12,-11.07 22.22,-13.08 21.29,-14.45 C20.36,-15.82 18.91,-16.94 17.74,-17.62 C16.58,-18.29 14.32,-18.50 14.32,-18.50 C14.32,-18.50 15.33,-17.55 16.03,-16.67 C16.74,-15.78 18.02,-14.50 18.57,-13.18 C19.12,-11.86 19.33,-10.28 19.33,-8.75 C19.33,-7.21 19.04,-5.19 18.57,-3.99 C18.09,-2.80 17.14,-1.83 16.48,-1.58 C15.81,-1.34 15.09,-1.87 14.58,-2.53 C14.06,-3.20 13.54,-4.33 13.37,-5.58 C13.20,-6.82 13.59,-8.72 13.56,-10.01 C13.53,-11.30 13.48,-12.44 13.18,-13.31 C12.89,-14.17 11.79,-15.21 11.79,-15.21 C11.79,-15.21 10.69,-14.17 10.39,-13.31 C10.10,-12.44 10.04,-11.30 10.01,-10.01 C9.98,-8.72 10.37,-6.82 10.20,-5.58 C10.03,-4.33 9.51,-3.20 9.00,-2.53 C8.49,-1.87 7.82,-1.34 7.16,-1.58 C6.51,-1.83 5.54,-2.80 5.07,-3.99 C4.59,-5.19 4.31,-7.21 4.31,-8.75 C4.31,-10.28 4.52,-11.86 5.07,-13.18 C5.62,-14.50 6.91,-15.78 7.60,-16.67 C8.30,-17.55 9.25,-18.50 9.25,-18.50Z" fill="#000" transform="translate(555.83,480.1) rotate(0) scale(1.0,1.0)"/>
<text transform="translate(579.6,493.8) scale(0.85,1)" font-size="23.6" text-anchor="start">1</text>
<text transform="translate(591.2,479.4) scale(1.045,1)" font-size="32.8" text-anchor="start">(<tspan font-style="italic">K</tspan>)</text>
<text transform="translate(417.0,807.0) scale(0.97,1)" font-size="36" text-anchor="start"><tspan font-style="italic">K</tspan></text>
<path d="M440.9,806.9 L447.6,783.4" stroke="#000" stroke-width="2.5" fill="none"/>
<g transform="translate(410,775) scale(0.08237)" fill="none" stroke="#000" stroke-linecap="butt">
<path d="M494,236 Q508,197 545,197 L706,197" stroke-width="34"/>
<path d="M572,205 C570,280 560,335 532,368" stroke-width="25"/>
<circle cx="530" cy="368" r="21" fill="#000" stroke="none"/>
<path d="M642,205 L634,330 Q632,378 668,378 Q696,376 703,325" stroke-width="27"/>
</g>
<path d="M9.25,-18.50 C9.25,-18.50 7.03,-18.29 5.89,-17.62 C4.75,-16.94 3.34,-15.82 2.41,-14.45 C1.48,-13.08 0.55,-11.07 0.32,-9.38 C0.08,-7.69 0.45,-5.70 1.01,-4.31 C1.57,-2.92 2.65,-1.73 3.68,-1.01 C4.70,-0.30 6.10,0.00 7.16,0.00 C8.22,0.00 9.24,-0.42 10.01,-1.01 C10.78,-1.61 11.79,-3.55 11.79,-3.55 C11.79,-3.55 12.80,-1.61 13.56,-1.01 C14.32,-0.42 15.30,0.00 16.35,0.00 C17.40,0.00 18.81,-0.30 19.84,-1.01 C20.86,-1.73 21.92,-2.92 22.50,-4.31 C23.08,-5.70 23.52,-7.69 23.32,-9.38 C23.12,-11.07 22.22,-13.08 21.29,-14.45 C20.36,-15.82 18.91,-16.94 17.74,-17.62 C16.58,-18.29 14.32,-18.50 14.32,-18.50 C14.32,-18.50 15.33,-17.55 16.03,-16.67 C16.74,-15.78 18.02,-14.50 18.57,-13.18 C19.12,-11.86 19.33,-10.28 19.33,-8.75 C19.33,-7.21 19.04,-5.19 18.57,-3.99 C18.09,-2.80 17.14,-1.83 16.48,-1.58 C15.81,-1.34 15.09,-1.87 14.58,-2.53 C14.06,-3.20 13.54,-4.33 13.37,-5.58 C13.20,-6.82 13.59,-8.72 13.56,-10.01 C13.53,-11.30 13.48,-12.44 13.18,-13.31 C12.89,-14.17 11.79,-15.21 11.79,-15.21 C11.79,-15.21 10.69,-14.17 10.39,-13.31 C10.10,-12.44 10.04,-11.30 10.01,-10.01 C9.98,-8.72 10.37,-6.82 10.20,-5.58 C10.03,-4.33 9.51,-3.20 9.00,-2.53 C8.49,-1.87 7.82,-1.34 7.16,-1.58 C6.51,-1.83 5.54,-2.80 5.07,-3.99 C4.59,-5.19 4.31,-7.21 4.31,-8.75 C4.31,-10.28 4.52,-11.86 5.07,-13.18 C5.62,-14.50 6.91,-15.78 7.60,-16.67 C8.30,-17.55 9.25,-18.50 9.25,-18.50Z" fill="#000" transform="translate(36.7,411.9) rotate(-90) scale(0.974,0.995)"/>
<path d="M13.0,381.5 L35.9,388.1" stroke="#000" stroke-width="1.7" fill="none"/>
<text transform="translate(36.7,380.2) rotate(-90)" font-size="36" font-style="italic">J</text>
<path d="M33.3,355.7 H49.2 M49.2,347.9 V363.4" stroke="#000" stroke-width="1.5" fill="none"/>
<text x="201" y="495.9" font-size="24.6"><tspan font-style="italic">F</tspan><tspan dy="9.4" font-size="17.8">pc</tspan><tspan dy="-9.4">, </tspan><tspan font-style="italic">N</tspan><tspan dy="2.4">=</tspan><tspan dy="-2.4">4, </tspan><tspan font-weight="bold">d</tspan><tspan dy="2.4">=</tspan><tspan dy="-2.4">(10,8,8,5,5,3,3)</tspan></text><text x="201" y="536.6" font-size="24.6"><tspan font-style="italic">F</tspan><tspan dy="9.4" font-size="17.8">gs,1p</tspan><tspan dy="-9.4">, </tspan><tspan font-style="italic">N</tspan><tspan dy="2.4">=</tspan><tspan dy="-2.4">4, </tspan><tspan font-weight="bold">d</tspan><tspan dy="2.4">=</tspan><tspan dy="-2.4">(10,8,8,5,5,3,3)</tspan></text><text x="201" y="577.9" font-size="24.6"><tspan font-style="italic">F</tspan><tspan dy="9.4" font-size="17.8">gs,1p</tspan><tspan dy="-9.4">, </tspan><tspan font-style="italic">N</tspan><tspan dy="2.4">=</tspan><tspan dy="-2.4">5, </tspan><tspan font-weight="bold">d</tspan><tspan dy="2.4">=</tspan><tspan dy="-2.4">(12,10,10,6,6,5,5,4,4)</tspan></text><text x="201" y="618.8" font-size="24.6"><tspan font-style="italic">F</tspan><tspan dy="9.4" font-size="17.8">gs,1p</tspan><tspan dy="-9.4">, </tspan><tspan font-style="italic">N</tspan><tspan dy="2.4">=</tspan><tspan dy="-2.4">5, </tspan><tspan font-weight="bold">d</tspan><tspan dy="2.4">=</tspan><tspan dy="-2.4">(18,14,14,6,6,5,5,4,4)</tspan></text><text x="201" y="660.4" font-size="24.6"><tspan font-style="italic">F</tspan><tspan dy="9.4" font-size="17.8">gs</tspan><tspan dy="-9.4">, </tspan><tspan font-style="italic">N</tspan><tspan dy="2.4">=</tspan><tspan dy="-2.4">5, </tspan><tspan font-weight="bold">d</tspan><tspan dy="2.4">=</tspan><tspan dy="-2.4">(12,10,10,6,6,5,5,4,4)</tspan></text><text x="201" y="701.3" font-size="24.6"><tspan font-style="italic">F</tspan><tspan dy="9.4" font-size="17.8">gs</tspan><tspan dy="-9.4">, </tspan><tspan font-style="italic">N</tspan><tspan dy="2.4">=</tspan><tspan dy="-2.4">5, </tspan><tspan font-weight="bold">d</tspan><tspan dy="2.4">=</tspan><tspan dy="-2.4">(12,10,10,6,6,5,5,4,4), "re-norm"</tspan></text>
</svg>
</body></html>
